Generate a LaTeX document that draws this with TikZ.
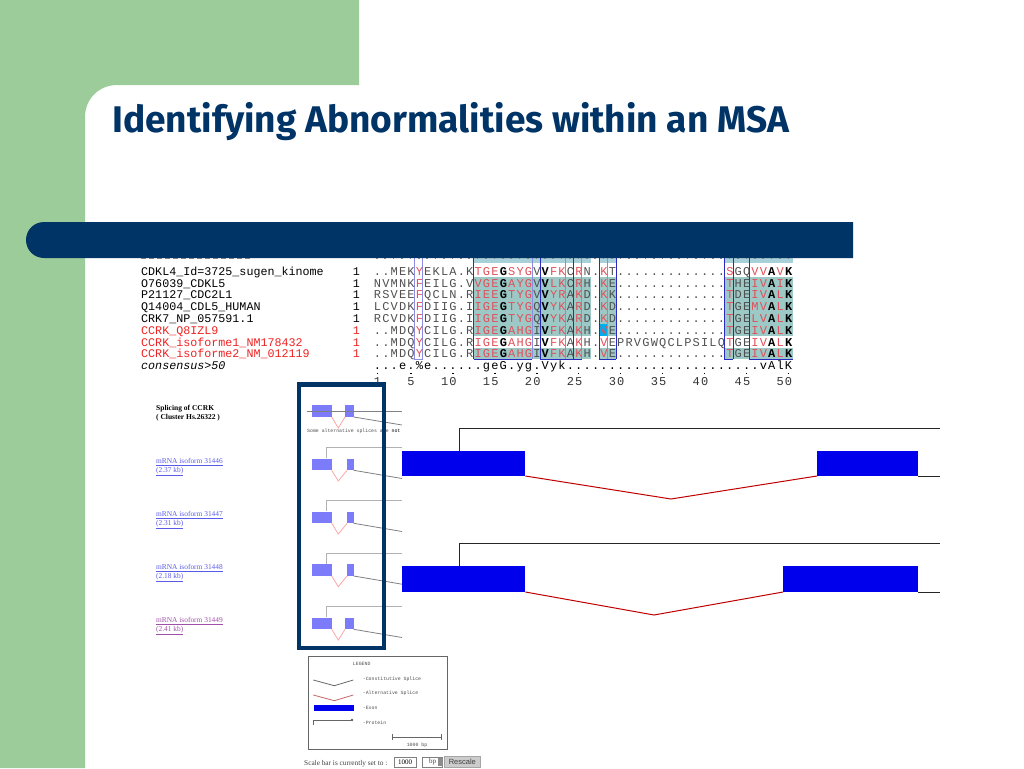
\documentclass[tikz,border=0pt]{standalone}
\usepackage{xcolor}
\usepackage{fontspec}
\usepackage{tikz}
\usetikzlibrary{positioning,arrows.meta}
\setmainfont{Liberation Serif}
\newfontfamily\titlefont{Fira Sans}
\newfontfamily\seqfont{Liberation Mono}
\newfontfamily\btnfont{Liberation Sans}
\definecolor{slidegreen}{HTML}{9CCC9A}
\definecolor{slidenavy}{HTML}{003366}
\definecolor{seqteal}{HTML}{9CC8C6}
\definecolor{seqpale}{HTML}{A8D0D8}
\definecolor{seqred}{HTML}{E0505A}
\definecolor{seqgrey}{HTML}{505050}
\definecolor{namered}{HTML}{EE2222}
\definecolor{boxdark}{HTML}{2A2AC0}
\definecolor{boxpale}{HTML}{8C8CE0}
\definecolor{exonpale}{HTML}{7C7CFA}
\definecolor{linkblue}{HTML}{5A5AE8}
\definecolor{linkpurple}{HTML}{A050A8}
\newcount\seqcol
\makeatletter
\newcommand{\seqpaint}[1]{\ifcase\seqcol\or#1\or#1\or#1\or#1\or#1\or\rd{#1}\or#1\or#1\or#1\or#1\or#1\or#1%
  \or\rd{#1}\or\rd{#1}\or\rd{#1}\or\bk{#1}\or\rd{#1}\or\rd{#1}\or\rd{#1}\or#1\or\bk{#1}\or\rd{#1}\or\rd{#1}\or#1\or\rd{#1}\or#1\or#1\or\rd{#1}\or#1%
  \or#1\or#1\or#1\or#1\or#1\or#1\or#1\or#1\or#1\or#1\or#1\or#1\or#1%
  \or\rd{#1}\or#1\or#1\or\rd{#1}\or\rd{#1}\or\bk{#1}\or\rd{#1}\or\bk{#1}\fi}
\newcommand{\seqline}[1]{\seqcol=0 \@tfor\seqch:=#1\do{\advance\seqcol by 1 \makebox[8.39pt][c]{\seqpaint{\seqch}}}}
\newcommand{\seqplain}[1]{\@tfor\seqch:=#1\do{\makebox[8.39pt][c]{\seqch}}}
\makeatother
\newcommand{\rd}[1]{\textcolor{seqred}{#1}}
\newcommand{\bk}[1]{\textcolor{black}{\bfseries #1}}
\tikzset{
  seqrow/.style={anchor=base west, inner sep=0pt, text=seqgrey, font=\seqfont\fontsize{12}{12}\selectfont},
  seqname/.style={anchor=base west, inner sep=0pt, text=black, font=\seqfont\fontsize{11.7}{12}\selectfont},
  seqcount/.style={seqname, anchor=base},
  shade/.style={fill=seqteal, draw=none},
  boxline/.style={draw=boxdark, line width=1pt},
  paleline/.style={draw=boxpale, line width=1pt},
  exon/.style={fill=blue!93!black, draw=none, inner sep=0pt, anchor=south west},
  miniexon/.style={fill=exonpale, draw=none, inner sep=0pt, anchor=south west},
  intron/.style={draw=black!85, line width=1pt},
  altsplice/.style={draw=red!75!black, line width=1pt},
  miniline/.style={draw=black!50, line width=0.8pt},
  minitop/.style={draw=black!30, line width=0.8pt},
  minialt/.style={draw=red!35, line width=0.8pt},
  linktext/.style={anchor=base west, inner sep=0pt, text=linkblue, font=\fontsize{7.4}{8}\selectfont},
  tinytext/.style={anchor=base west, inner sep=0pt, text=black!70, font=\seqfont\fontsize{4.85}{5}\selectfont}
}
\begin{document}
\begin{tikzpicture}[x=1pt,y=-1pt]
\useasboundingbox (0,0) rectangle (1024,768);
\fill[slidegreen] (0,0) -- (359,0) -- (359,85) -- (117,85) .. controls (99,85) and (85,99) .. (85,117) -- (85,768) -- (0,768) -- cycle;

\node[anchor=base west, inner sep=0pt, text=slidenavy, font=\titlefont\bfseries\fontsize{37.1}{40}\selectfont] (title) at (112,132) {Identifying Abnormalities within an MSA};

\fill[seqpale] (474,258) rectangle (591,262.5);
\fill[seqpale] (599.6,258) rectangle (616.4,262.5);
\fill[seqpale] (725,258) rectangle (792.6,262.5);
\foreach \ya/\yb in {277/336,348/359}{
  \fill[shade] (474,\ya) rectangle (591,\yb);
  \fill[shade] (599.6,\ya) rectangle (616.4,\yb);
  \fill[shade] (725,\ya) rectangle (792.6,\yb);
}
\fill[cyan] (599.6,323.5) rectangle (608,336);

\foreach \xl in {414,422.7,532,565,581.7,607.7}
  \draw[paleline] (\xl,258) -- (\xl,359);
\foreach \xl in {473.5,540,573,599,616,724,733,749}
  \draw[boxline] (\xl,258) -- (\xl,359);
\draw[paleline] (414,359) -- (422.7,359);
\draw[boxline] (473.5,359) -- (532,359) (540,359) -- (581.7,359) (599,359) -- (616,359) (724,359) -- (733,359) (749,359) -- (792.6,359);

\draw[black!45, line width=1pt, dash pattern=on 5pt off 3pt] (141,258.8) -- (250,258.8);
\draw[black!45, line width=0.8pt, dash pattern=on 1.5pt off 6.9pt] (376,258.8) -- (792,258.8);

\node[seqrow] (rowa) at (373.1,275) {\seqline{..MEKYEKLA.KTGEGSYGVVFKCRN.KT.............SGQVVAVK}};
\node[seqrow] (rowb) at (373.1,287) {\seqline{NVMNKFEILG.VVGEGAYGVVLKCRH.KE.............THEIVAIK}};
\node[seqrow] (rowc) at (373.1,298.7) {\seqline{RSVEEFQCLN.RIEEGTYGVVYRAKD.KK.............TDEIVALK}};
\node[seqrow] (rowd) at (373.1,310.5) {\seqline{LCVDKFDIIG.IIGEGTYGQVYKARD.KD.............TGEMVALK}};
\node[seqrow] (rowe) at (373.1,322.4) {\seqline{RCVDKFDIIG.IIGEGTYGQVYKARD.KD.............TGELVALK}};
\node[seqrow] (rowf) at (373.1,334.2) {\seqline{..MDQYCILG.RIGEGAHGIVFKAKH.VE.............TGEIVALK}};
\node[seqrow] (rowg) at (373.1,346) {\seqline{..MDQYCILG.RIGEGAHGIVFKAKH.VEPRVGWQCLPSILQTGEIVALK}};
\node[seqrow] (rowh) at (373.1,357.8) {\seqline{..MDQYCILG.RIGEGAHGIVFKAKH.VE.............TGEIVALK}};
\node[seqrow, text=black] (rowcons) at (373.1,369.6) {\seqplain{...e.\%e......geG.yg.Vyk.......................vAlK}};
\node[seqrow, text=black!80] (rulernums) at (373.1,385) {\seqplain{1~~~5~~~10~~~15~~~20~~~25~~~30~~~35~~~40~~~45~~~50}};
\foreach \cc in {0,4,9,14,19,24,29,34,39,44,49}
  \fill[black] (377.3+\cc*8.39-0.8,372.5) rectangle (377.3+\cc*8.39+0.8,374.2);

\node[seqname] (nameb) at (141,275) {CDKL4\_Id=3725\_sugen\_kinome};
\node[seqname] (namec) at (141,287) {O76039\_CDKL5};
\node[seqname] (named) at (141,298.7) {P21127\_CDC2L1};
\node[seqname] (namee) at (141,310.5) {Q14004\_CDL5\_HUMAN};
\node[seqname] (namef) at (141,322.4) {CRK7\_NP\_057591.1};
\node[seqname, text=namered] (nameg) at (141,334.2) {CCRK\_Q8IZL9};
\node[seqname, text=namered] (nameh) at (141,346) {CCRK\_isoforme1\_NM178432};
\node[seqname, text=namered] (namei) at (141,357.8) {CCRK\_isoforme2\_NM\_012119};
\node[seqname, font=\seqfont\itshape\fontsize{11.7}{12}\selectfont] (namecons) at (141,369.6) {consensus>50};
\foreach \yy/\cc in {275/black,287/black,298.7/black,310.5/black,322.4/black,334.2/namered,346/namered,357.8/namered}
  \node[seqcount, text=\cc] at (356.5,\yy) {1};

\fill[slidenavy] (853,222) -- (44,222) .. controls (34,222) and (26,230) .. (26,240) .. controls (26,250) and (34,258) .. (44,258) -- (853,258) -- cycle;

\node[anchor=base west, inner sep=0pt, font=\bfseries\fontsize{7.5}{8}\selectfont] (spltitle) at (156,410) {Splicing of CCRK};
\node[anchor=base west, inner sep=0pt, font=\bfseries\fontsize{7.5}{8}\selectfont] (splcluster) at (156,419) {( Cluster Hs.26322 )};
\node[linktext] (isoa) at (156,463.5) {\underline{mRNA isoform 31446}};
\node[linktext] (isoaa) at (156,472.5) {\underline{(2.37 kb)}};
\node[linktext] (isob) at (156,516.5) {\underline{mRNA isoform 31447}};
\node[linktext] (isobb) at (156,525.5) {\underline{(2.31 kb)}};
\node[linktext] (isoc) at (156,569.5) {\underline{mRNA isoform 31448}};
\node[linktext] (isocc) at (156,578.5) {\underline{(2.18 kb)}};
\node[linktext, text=linkpurple] (isod) at (156,622.5) {\underline{mRNA isoform 31449}};
\node[linktext, text=linkpurple] (isodd) at (156,631.5) {\underline{(2.41 kb)}};

\node[tinytext] (splnote) at (307,432.5) {Some alternative splices are \textcolor{black}{not}};

\node[miniexon, minimum width=19.3pt, minimum height=11.7pt] (ma1) at (312,417) {};
\node[miniexon, minimum width=8.3pt, minimum height=11.7pt] (ma2) at (345,417) {};
\coordinate (mva) at (338.3,428);
\coordinate (mla) at (402,425);
\coordinate (mta) at (306.7,411.7);
\coordinate (mtb) at (402,411.7);
\draw[miniline] (mta) -- (mtb);
\draw[minialt] (ma1.south east) -- (mva) -- (ma2.south west);
\draw[miniline] (ma2.south east) -- (mla);

\foreach \nm/\yy/\xx/\ww in {b/470.3/347/6.3,c/523.3/347/6.3,d/576/347/6.3,e/629.3/345/8.3}{
  \node[miniexon, minimum width=19.3pt, minimum height=11.5pt] (m\nm1) at (312,\yy) {};
  \node[miniexon, minimum width=\ww pt, minimum height=11.5pt] (m\nm2) at (\xx,\yy) {};
  \coordinate (mv\nm) at (338.3,\yy+10.7);
  \coordinate (ml\nm) at (402,\yy+8.2);
  \coordinate (mu\nm) at (326.7,\yy-22.5);
  \coordinate (mr\nm) at (402,\yy-22.5);
  \draw[minialt] (m\nm1.south east) -- (mv\nm) -- (m\nm2.south west);
  \draw[miniline] (m\nm2.south east) -- (ml\nm);
  \draw[minitop] (mr\nm) -- (mu\nm) -- (mu\nm |- m\nm1.north);
}

\draw[slidenavy, line width=4.4pt] (299,384.5) rectangle (384,648);

\node[exon, minimum width=123pt, minimum height=25pt] (ea) at (402,476) {};
\node[exon, minimum width=101pt, minimum height=25pt] (eb) at (817,476) {};
\node[exon, minimum width=123pt, minimum height=26pt] (ec) at (402,592) {};
\node[exon, minimum width=135pt, minimum height=26pt] (ed) at (783,592) {};
\coordinate (va) at (671,499);
\coordinate (vb) at (654,615);
\coordinate (ta) at (459,428);
\coordinate (tb) at (940,428);
\coordinate (tc) at (459,543);
\coordinate (td) at (940,543);
\coordinate (ra) at (940,476);
\coordinate (rb) at (940,592);
\draw[altsplice] (ea.south east) -- (va) -- (eb.south west);
\draw[altsplice] (ec.south east) -- (vb) -- (ed.south west);
\draw[intron] (tb) -- (ta) -- (ta |- ea.north);
\draw[intron] (td) -- (tc) -- (tc |- ec.north);
\draw[intron] (eb.south east) -- (ra);
\draw[intron] (ed.south east) -- (rb);

\node[draw=black!60, line width=0.8pt, minimum width=138.7pt, minimum height=93.3pt, inner sep=0pt, anchor=north west] (legend) at (308,656) {};
\node[tinytext, anchor=base] (legtitle) at (361.7,665) {LEGEND};
\node[tinytext] (legcons) at (362.7,680) {-Constitutive Splice};
\node[tinytext] (legalt) at (362.7,694.6) {-Alternative Splice};
\node[tinytext] (legexon) at (362.7,709.5) {-Exon};
\node[tinytext] (legprot) at (362.7,724) {-Protein};
\node[tinytext, anchor=base] (legbar) at (417,746) {1000 bp};
\coordinate (lca) at (313.3,680);
\coordinate (lcb) at (334.3,685.7);
\coordinate (lcc) at (353.3,680);
\coordinate (laa) at (313.3,695);
\coordinate (lab) at (334.3,700.7);
\coordinate (lac) at (353.3,695);
\coordinate (lpa) at (313.3,725);
\coordinate (lpb) at (313.3,720);
\coordinate (lpc) at (353.3,720);
\coordinate (lsa) at (392.3,737.3);
\coordinate (lsb) at (441.7,737.3);
\draw[miniline, draw=black!60] (lca) -- (lcb) -- (lcc);
\draw[minialt, draw=red!60!black!60] (laa) -- (lab) -- (lac);
\node[exon, anchor=north west, minimum width=40pt, minimum height=5.7pt] (legblue) at (313.3,705) {};
\draw[miniline, draw=black!60, -{Circle[length=2.5pt]}] (lpa) -- (lpb) -- (lpc);
\draw[miniline, draw=black!60, |-|] (lsa) -- (lsb);

\node[anchor=base west, inner sep=0pt, text=black!75, font=\fontsize{7.3}{8}\selectfont] (scaletext) at (304,765.5) {Scale bar is currently set to :};
\node[draw=black!50, line width=0.6pt, minimum width=21.7pt, minimum height=9.4pt, inner sep=0pt, anchor=north west, font=\fontsize{7}{8}\selectfont] (scalein) at (394,757.3) {1000};
\node[draw=black!50, line width=0.6pt, minimum width=20pt, minimum height=9.4pt, inner sep=0pt, anchor=north west, font=\fontsize{7}{8}\selectfont, text=black!75] (scalesel) at (422.3,757.3) {bp\hspace{8pt}};
\node[fill=black!45, minimum width=5pt, minimum height=8pt, inner sep=0pt, anchor=east] (scalearr) at (scalesel.east) {};
\node[fill=black!20, draw=black!35, line width=0.6pt, minimum width=36pt, minimum height=10.7pt, inner sep=0pt, anchor=north west, font=\btnfont\fontsize{7.5}{8}\selectfont, text=black!75] (scalebtn) at (444,756) {Rescale};
\end{tikzpicture}
\end{document}
